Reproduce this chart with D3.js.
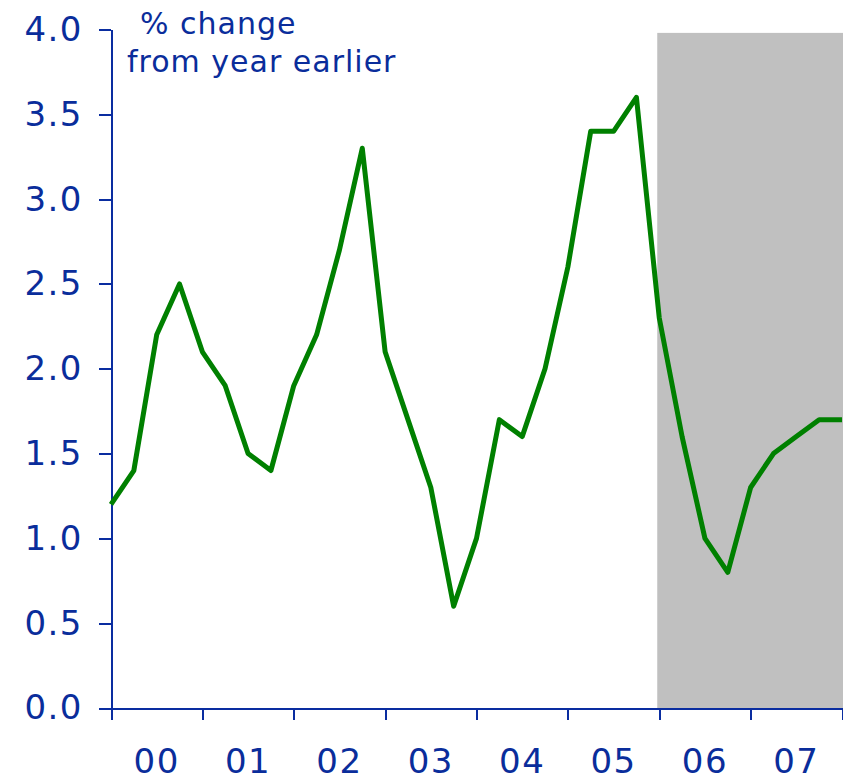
<!DOCTYPE html>
<html>
<head>
<script src="https://d3js.org/d3.v7.min.js"></script>
<style>
body { margin: 0; background: #fff; }
svg { display: block; }
.axis path, .axis line { stroke: #0a2da0; stroke-width: 2px; shape-rendering: crispEdges; }
.axis text { fill: #0a2d9b; font-family: "DejaVu Sans", Verdana, sans-serif; font-size: 34px; letter-spacing: 1.5px; }
.title { fill: #0a2d9b; font-family: "DejaVu Sans", Verdana, sans-serif; font-size: 30px; letter-spacing: 1px; }
</style>
</head>
<body>
<svg width="843" height="782"></svg>
<script>
const years = ["00", "01", "02", "03", "04", "05", "06", "07"];
const yTicks = [0, 0.5, 1, 1.5, 2, 2.5, 3, 3.5, 4];
// quarterly values, % change from year earlier, 2000Q1 .. 2008Q1
const values = [
  1.2, 1.4, 2.2, 2.5,
  2.1, 1.9, 1.5, 1.4,
  1.9, 2.2, 2.7, 3.3,
  2.1, 1.7, 1.3, 0.6,
  1.0, 1.7, 1.6, 2.0,
  2.6, 3.4, 3.4, 3.6,
  2.3, 1.6, 1.0, 0.8,
  1.3, 1.5, 1.6, 1.7,
  1.7
];
const shade = { from: 2006, to: 2008, top: 3.98 };

const svg = d3.select("svg");

const x = d3.scaleLinear().domain([2000, 2008]).range([111, 842]);
const y = d3.scaleLinear().domain([0, 4]).range([708, 29.5]);

// forecast shading
svg.append("rect")
  .attr("x", x(shade.from) - 2)
  .attr("y", y(shade.top))
  .attr("width", x(shade.to) - x(shade.from) + 4)
  .attr("height", y(0) - y(shade.top))
  .attr("fill", "#c0c0c0");

// y axis
svg.append("g")
  .attr("class", "axis")
  .attr("transform", `translate(${x(2000)},0)`)
  .call(d3.axisLeft(y).tickValues(yTicks).tickFormat(d3.format(".1f"))
    .tickSizeInner(12).tickSizeOuter(0).tickPadding(16));

// x axis
svg.append("g")
  .attr("class", "axis")
  .attr("transform", `translate(0,${y(0)})`)
  .call(d3.axisBottom(x).tickValues(d3.range(2000, 2009)).tickFormat("")
    .tickSizeInner(12).tickSizeOuter(0));

svg.append("g")
  .attr("class", "axis")
  .selectAll("text")
  .data(years)
  .join("text")
  .attr("x", (d, i) => x(2000 + i + 0.5))
  .attr("y", 773)
  .attr("text-anchor", "middle")
  .text(d => d);

// line
const line = d3.line()
  .x((d, i) => x(2000 + i / 4))
  .y(d => y(d));

svg.append("path")
  .datum(values)
  .attr("fill", "none")
  .attr("stroke", "#008000")
  .attr("stroke-width", 5)
  .attr("stroke-linejoin", "round")
  .attr("d", line);

// title
svg.append("text").attr("class", "title").attr("x", 140).attr("y", 34).text("% change");
svg.append("text").attr("class", "title").attr("x", 127).attr("y", 72).text("from year earlier");
</script>
</body>
</html>
